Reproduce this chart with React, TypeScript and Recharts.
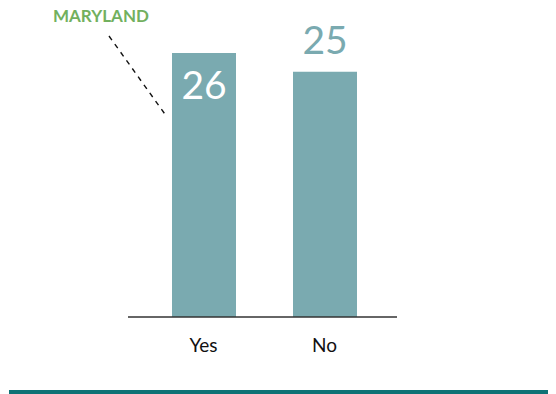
import { BarChart, Bar, XAxis, YAxis, LabelList } from 'recharts';

const categories = ['Yes', 'No'];
const values = [26, 25];
const annotation = 'MARYLAND';

const data = categories.map((name, i) => ({ name, value: values[i] }));

const barColor = '#7aaab0';
const font = 'Lato, "Open Sans", sans-serif';

// value labels: first one sits inside the bar in white, the rest above in teal,
// plus the state annotation with its dashed leader line on the first bar
const renderLabel = (props: any) => {
    const { x, y, width, value, index } = props;
    const cx = x + width / 2;
    if (index === 0) {
        return (
            <g>
                <text x={cx} y={y + 46} textAnchor="middle" fill="#ffffff" fontSize={39} fontFamily={font}>
                    {value}
                </text>
                <line x1={x - 63} y1={y - 17} x2={x - 5} y2={y + 64} stroke="#111" strokeWidth={1.4} strokeDasharray="5 5" />
                <text x={x - 119} y={y - 31} fill="#72b05e" fontSize={17} fontWeight={700} fontFamily={font}>
                    {annotation}
                </text>
            </g>
        );
    }
    return (
        <text x={cx} y={y - 18} textAnchor="middle" fill={barColor} fontSize={39} fontFamily={font}>
            {value}
        </text>
    );
};

export default function App() {
    return (
        <div style={{ position: 'absolute', top: 0, left: 8, width: 548, height: 394 }}>
            <BarChart
                width={540}
                height={384}
                data={data}
                margin={{ top: 53, left: 120, right: 151, bottom: 27 }}
            >
                <XAxis
                    dataKey="name"
                    height={40}
                    padding={{ left: 15, right: 12 }}
                    tickLine={false}
                    tickSize={6}
                    tickMargin={16}
                    axisLine={{ stroke: '#333', strokeWidth: 1.5 }}
                    tick={{ fill: '#111', fontSize: 19, fontFamily: font }}
                />
                <YAxis hide domain={[12, 26]} />
                <Bar dataKey="value" fill={barColor} barSize={64} isAnimationActive={false}>
                    <LabelList dataKey="value" content={renderLabel} />
                </Bar>
            </BarChart>
            <div style={{ position: 'absolute', top: 390, left: 1, width: 539, height: 4, background: '#0e7376' }} />
        </div>
    );
}
